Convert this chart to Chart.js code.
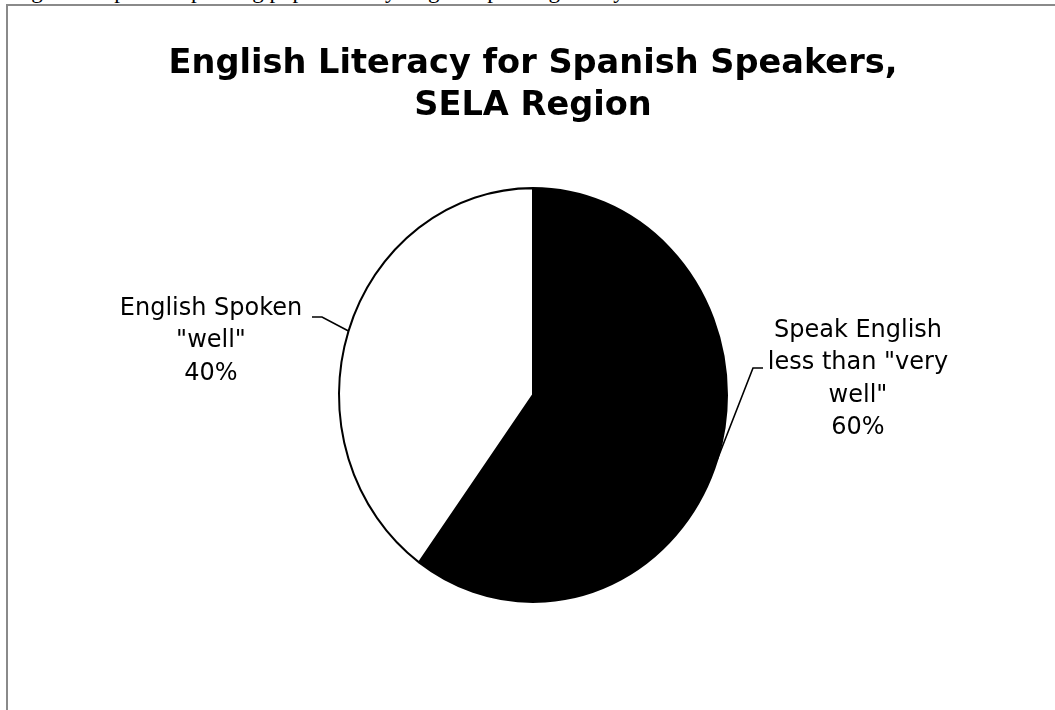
<!DOCTYPE html>
<html>
<head>
<meta charset="utf-8">
<script src="https://cdn.jsdelivr.net/npm/chart.js@4.4.1/dist/chart.umd.min.js"></script>
<style>
  html, body { margin: 0; padding: 0; background: #fff; overflow: hidden; }
  #wrap { position: relative; width: 1055px; height: 710px; }
  #frame { position: absolute; left: 6px; top: 4px; width: 1100px; height: 800px; border-top: 2px solid #8a8a8a; border-left: 2px solid #8a8a8a; }
  #cut { position: absolute; left: 12px; top: -22px; font: 23px "Liberation Serif", serif; color: #000; white-space: nowrap; line-height: 26px; }
  canvas { position: absolute; left: 0; top: 0; }
</style>
</head>
<body>
<div id="wrap">
  <div id="cut">Figure 6: Spanish-speaking population by English speaking ability</div>
  <div id="frame"></div>
  <canvas id="pieChart" width="1055" height="710"></canvas>
</div>
<script>
const sliceLabels = [["Speak English", "less than \"very", "well\""], ["English Spoken", "\"well\""]];
const sliceValues = [60, 40];
const sliceColors = ["#000000", "#ffffff"];
const titleLines = ["English Literacy for Spanish Speakers,", "SELA Region"];

// pie is drawn a bit taller than wide, like the original
const yStretch = 208 / 195;

const stretchPlugin = {
  id: "stretch",
  beforeDatasetsDraw(chart) {
    const a = chart.chartArea;
    const cx = (a.left + a.right) / 2;
    const cy = (a.top + a.bottom) / 2;
    chart.ctx.save();
    chart.ctx.translate(cx, cy);
    chart.ctx.scale(1, yStretch);
    chart.ctx.translate(-cx, -cy);
  },
  afterDatasetsDraw(chart) {
    chart.ctx.restore();
  },
};

// label block placement relative to pie centre
const labelSpots = [
  { dx: 325, dy: -58, elbowDx: 220, elbowDy: -27, side: 1 },
  { dx: -322, dy: -80, elbowDx: -211, elbowDy: -78, side: -1 },
];

const calloutPlugin = {
  id: "callouts",
  afterDatasetsDraw(chart) {
    const ctx = chart.ctx;
    const meta = chart.getDatasetMeta(0);
    const total = sliceValues.reduce((s, v) => s + v, 0);
    ctx.save();
    ctx.font = "24px 'DejaVu Sans'";
    ctx.fillStyle = "#000";
    ctx.strokeStyle = "#000";
    ctx.lineWidth = 1.6;
    ctx.textAlign = "center";
    ctx.textBaseline = "alphabetic";
    meta.data.forEach((arc, i) => {
      const mid = (arc.startAngle + arc.endAngle) / 2;
      const r = arc.outerRadius;
      const ex = arc.x + Math.cos(mid) * r;
      const ey = arc.y + Math.sin(mid) * r * yStretch;
      const spot = labelSpots[i];
      const bx = arc.x + spot.elbowDx;
      const by = arc.y + spot.elbowDy;
      ctx.beginPath();
      ctx.moveTo(ex, ey);
      ctx.lineTo(bx, by);
      ctx.lineTo(bx + spot.side * 10, by);
      ctx.stroke();
      const lines = sliceLabels[i].concat([Math.round((sliceValues[i] / total) * 100) + "%"]);
      lines.forEach((t, k) => {
        ctx.fillText(t, arc.x + spot.dx, arc.y + spot.dy + k * 32.3);
      });
    });
    ctx.restore();
  },
};

const pieChart = new Chart(document.getElementById("pieChart"), {
  type: "pie",
  data: {
    labels: sliceLabels.map((l) => l.join(" ")),
    datasets: [
      {
        data: sliceValues,
        backgroundColor: sliceColors,
        borderColor: "#000000",
        borderWidth: 2,
      },
    ],
  },
  options: {
    responsive: false,
    animation: false,
    layout: { padding: { left: 11, right: 0, top: 0, bottom: 120 } },
    plugins: {
      legend: { display: false },
      tooltip: { enabled: false },
      title: {
        display: true,
        text: titleLines,
        color: "#000",
        font: { family: "'DejaVu Sans'", size: 33.6, weight: "bold", lineHeight: 1.25 },
        padding: { top: 43, bottom: 73 },
      },
    },
  },
  plugins: [stretchPlugin, calloutPlugin],
});
</script>
</body>
</html>
